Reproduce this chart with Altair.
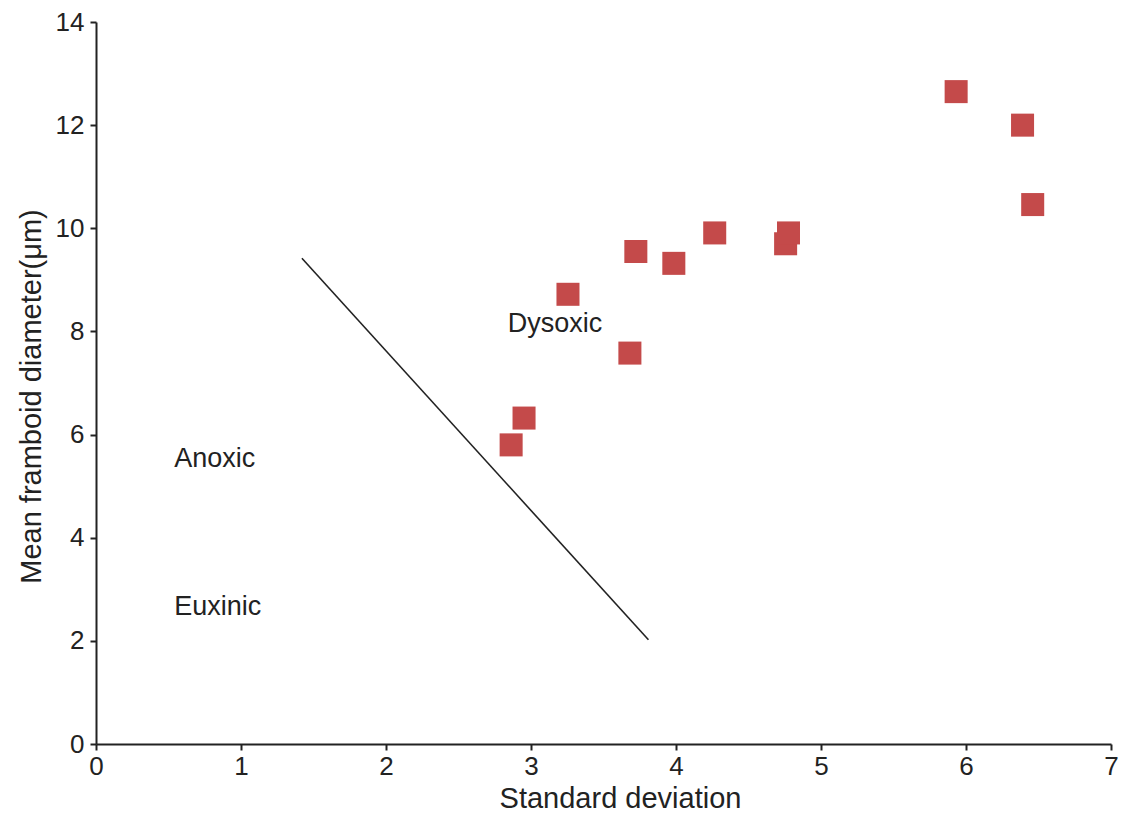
import altair as alt
import pandas as pd

sd = [2.863, 2.952, 3.255, 3.682, 3.723, 3.985, 4.267, 4.756, 4.776, 5.932, 6.39, 6.46]
mean_d = [5.80, 6.32, 8.72, 7.58, 9.55, 9.32, 9.91, 9.70, 9.91, 12.65, 12.0, 10.46]

line_x = [1.42, 3.81]
line_y = [9.42, 2.02]

label_text = ["Dysoxic", "Anoxic", "Euxinic"]
label_x = [2.84, 0.54, 0.54]
label_y = [8.14, 5.53, 2.65]

pts = pd.DataFrame({"sd": sd, "d": mean_d})
ln = pd.DataFrame({"sd": line_x, "d": line_y})
lb = pd.DataFrame({"t": label_text, "sd": label_x, "d": label_y})

xs = alt.Scale(domain=[0, 7], nice=False, zero=False)
ys = alt.Scale(domain=[0, 14], nice=False, zero=False)

xax = alt.Axis(values=list(range(0, 8)), format="d", title="Standard deviation",
               titleX=524, labelPadding=3, titlePadding=5, labelFlush=False)
yax = alt.Axis(values=list(range(0, 15, 2)), format="d", title="Mean framboid diameter(μm)",
               labelPadding=6, titlePadding=9, labelFlush=False, titleY=374)

X = alt.X("sd:Q", scale=xs, axis=xax)
Y = alt.Y("d:Q", scale=ys, axis=yax)

points = alt.Chart(pts).mark_square(size=530, color="#c44a4a", opacity=1).encode(x=X, y=Y)

line = alt.Chart(ln).mark_line(color="#222", strokeWidth=1.6).encode(x=X, y=Y)

labels = alt.Chart(lb).mark_text(align="left", baseline="middle", fontSize=27,
                                 font="Liberation Sans", color="#222").encode(
    x=X, y=Y, text="t:N",
)

chart = alt.layer(line, points, labels).properties(
    width=1015, height=722,
    autosize=alt.AutoSizeParams(type="none"),
    padding={"left": 88, "top": 14, "right": 8, "bottom": 70},
).configure_view(stroke=None).configure_axis(
    grid=False, labelFontSize=26, titleFontSize=29, titleFontWeight="normal",
    labelFont="Liberation Sans", titleFont="Liberation Sans",
    labelColor="#222", titleColor="#222", domainColor="#222", tickColor="#222",
    domainWidth=2, tickWidth=2, tickSize=6,
)

chart.save("out.html", embed_options={"renderer": "svg", "actions": False})
